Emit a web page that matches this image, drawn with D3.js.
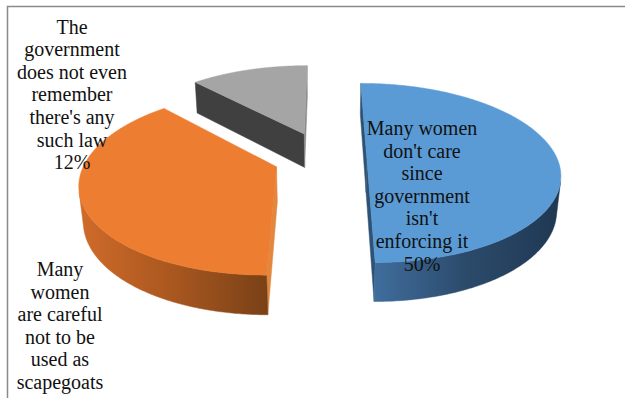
<!DOCTYPE html>
<html>
<head>
<meta charset="utf-8">
<script src="https://cdn.jsdelivr.net/npm/d3@7"></script>
<style>
  html, body { margin: 0; padding: 0; background: #fff; }
  svg { display: block; }
</style>
</head>
<body>
<svg id="chart" width="625" height="398"></svg>
<script>
// ---- data ----
const categories = [
  "Many women don't care since government isn't enforcing it",
  "Many women are careful not to be used as scapegoats",
  "The government does not even remember there's any such law"
];
const values = [50, 38, 12];
const percentLabels = ["50%", "38%", "12%"];
// line breaks used when the category names are set as data labels
const labelLines = [
  ["Many women", "don't care", "since", "government", "isn't", "enforcing it"],
  ["Many", "women", "are careful", "not to be", "used as", "scapegoats"],
  ["The", "government", "does not even", "remember", "there's any", "such law"]
];

// ---- styling / layout ----
const topColors  = ["#5b9bd5", "#ed7d31", "#a5a5a5"];
const wallStops  = [["#3f6d9c", "#2b4a6a", "#1f3853"], ["#cf6b2a", "#a9571f", "#7a4117"], ["#6b6b6b", "#555", "#444"]];
const startFace  = ["#2f5274", "#e2873e", "#404040"];
const endFace    = ["#2f5274", "#c86a28", "#8a8a8a"];
const explode    = [0.22, 0.27, 0.31];
const labelPos   = [{x: 422, y: 135}, {x: 60, y: 276}, {x: 72, y: 33.5}];
// the percentage line of a label is drawn only where it falls inside the frame
const H = 398, W = 625;

const svg = d3.select("#chart");

// frame line along the top and left edges
svg.append("path")
  .attr("d", `M7.5,${H} L7.5,6.5 L${W},6.5`)
  .attr("fill", "none").attr("stroke", "#8a8a8a").attr("stroke-width", 1.5);

// ---- 3D perspective projection of the pie disk (radius 1) ----
const view = { cx: 325, cy: 158, F: 1015, D: 5.34, tilt: Math.asin(0.458), depth: 0.208 };
const sa = Math.sin(view.tilt), ca = Math.cos(view.tilt);
const cam = [0, view.D * sa, view.D * ca];
function project(X, Y, Z) {
  const up = Y * ca - Z * sa;
  const d = view.D - Z * ca - Y * sa;
  return [view.cx + view.F * X / d, view.cy - view.F * up / d];
}

const pie = d3.pie().sort(null).value(d => d);
const arcs = pie(values);
const line = d3.line();
const N = 240;

const defs = svg.append("defs");

function rim(c, a, y) { return project(c[0] + Math.sin(a), y, c[2] - Math.cos(a)); }

const slices = arcs.map((a, i) => {
  const mid = (a.startAngle + a.endAngle) / 2;
  const c = [explode[i] * Math.sin(mid), 0, -explode[i] * Math.cos(mid)];
  return { a, i, c };
});

// paint back slices first
const order = slices.slice().sort((p, q) => p.c[2] - q.c[2]);

order.forEach(({ a, i, c }) => {
  const g = svg.append("g");
  const a0 = a.startAngle, a1 = a.endAngle;
  const h = view.depth;
  const angles = d3.range(N + 1).map(k => a0 + (a1 - a0) * k / N);

  // radial cut faces
  const faces = [
    { ang: a0, n: [-Math.cos(a0), 0, -Math.sin(a0)], fill: startFace[i] },
    { ang: a1, n: [Math.cos(a1), 0, Math.sin(a1)], fill: endFace[i] }
  ];
  faces.forEach(f => {
    const v = [cam[0] - c[0], cam[1] - c[1], cam[2] - c[2]];
    if (f.n[0] * v[0] + f.n[1] * v[1] + f.n[2] * v[2] <= 0) return;
    const pts = [project(c[0], 0, c[2]), rim(c, f.ang, 0), rim(c, f.ang, -h), project(c[0], -h, c[2])];
    g.append("path").attr("d", line(pts) + "Z").attr("fill", f.fill)
      .attr("stroke", f.fill).attr("stroke-width", 0.5);
  });

  // outer wall: keep the stretches that face the camera
  const vis = angles.map(t => {
    const n = [Math.sin(t), 0, -Math.cos(t)];
    const p = [c[0] + n[0], -h / 2, c[2] + n[2]];
    return n[0] * (cam[0] - p[0]) + n[2] * (cam[2] - p[2]) > 0;
  });
  let runs = [], cur = null;
  angles.forEach((t, k) => {
    if (vis[k]) { if (!cur) { cur = []; runs.push(cur); } cur.push(t); }
    else cur = null;
  });
  runs.forEach((run, r) => {
    if (run.length < 2) return;
    const topPts = run.map(t => rim(c, t, 0));
    const botPts = run.slice().reverse().map(t => rim(c, t, -h));
    const xs = topPts.map(p => p[0]);
    const gid = `wall${i}_${r}`;
    const grad = defs.append("linearGradient").attr("id", gid)
      .attr("gradientUnits", "userSpaceOnUse")
      .attr("x1", d3.min(xs)).attr("x2", d3.max(xs)).attr("y1", 0).attr("y2", 0);
    wallStops[i].forEach((col, k, arr) => grad.append("stop")
      .attr("offset", k / (arr.length - 1)).attr("stop-color", col));
    g.append("path").attr("d", line(topPts.concat(botPts)) + "Z")
      .attr("fill", `url(#${gid})`).attr("stroke", `url(#${gid})`).attr("stroke-width", 0.5);
  });

  // top face
  const topFace = [project(c[0], 0, c[2])].concat(angles.map(t => rim(c, t, 0)));
  g.append("path").attr("d", line(topFace) + "Z").attr("fill", topColors[i])
    .attr("stroke", topColors[i]).attr("stroke-width", 0.5);
});

// ---- data labels ----
const lh = 22.6;
labelLines.forEach((lines, i) => {
  const t = svg.append("text")
    .attr("font-family", "'Liberation Serif', 'Times New Roman', serif")
    .attr("font-size", 20).attr("fill", "#111").attr("text-anchor", "middle");
  lines.concat([percentLabels[i]]).forEach((s, k) => {
    const y = labelPos[i].y + k * lh;
    if (y > H) return;
    t.append("tspan").attr("x", labelPos[i].x).attr("y", y).text(s);
  });
  t.append("title").text(`${categories[i]}: ${values[i]}%`);
});
</script>
</body>
</html>
